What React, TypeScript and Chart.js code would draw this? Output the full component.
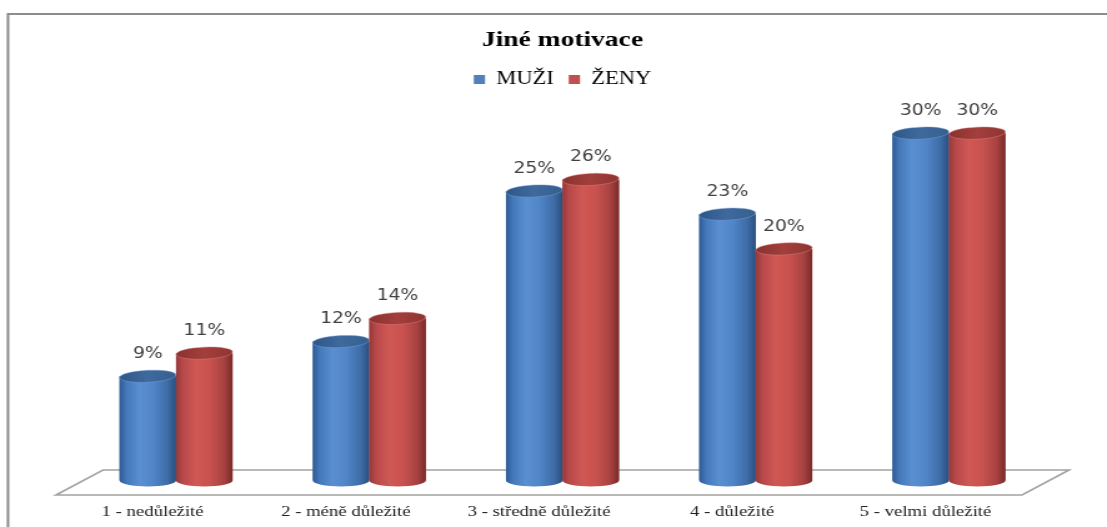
import React, { useEffect, useRef } from 'react';
import { Chart, registerables } from 'chart.js';

Chart.register(...registerables);

// Chart content
const chartTitle = 'Jiné motivace';
const categories = [
  '1 - nedůležité',
  '2 - méně důležité',
  '3 - středně důležité',
  '4 - důležité',
  '5 - velmi důležité',
];
const seriesNames = ['MUŽI', 'ŽENY'];
const muziValues = [9, 12, 25, 23, 30];
const zenyValues = [11, 14, 26, 20, 30];
const seriesColors = ['#4f81bd', '#c0504d'];

// The drawing is laid out on a narrower canvas and widened with CSS.
const OUT_W = 1107;
const OUT_H = 527;
const CANVAS_W = 886;
const STRETCH = OUT_W / CANVAS_W;
const FLOOR_SHIFT = 18.8; // horizontal half-depth of the floor
const CAP_RY = 6; // vertical radius of the cylinder ends
const CAP_TILT = -0.06;

type Palette = { body: [number, string][]; cap: [number, string][]; rim: string };
const palettes: Palette[] = [
  {
    body: [
      [0, '#2f5a92'],
      [0.12, '#4378ba'],
      [0.35, '#5a8fd1'],
      [0.6, '#5085c8'],
      [0.85, '#3e6ca6'],
      [1, '#2a4f80'],
    ],
    cap: [
      [0, '#2e5789'],
      [0.5, '#40699d'],
      [1, '#34608f'],
    ],
    rim: 'rgba(120,160,210,0.6)',
  },
  {
    body: [
      [0, '#95393a'],
      [0.12, '#b8494a'],
      [0.35, '#d05855'],
      [0.6, '#c8524f'],
      [0.85, '#a64240'],
      [1, '#792a29'],
    ],
    cap: [
      [0, '#8a3230'],
      [0.5, '#a33f3c'],
      [1, '#8e3533'],
    ],
    rim: 'rgba(220,130,128,0.6)',
  },
];

const framePlugin = {
  id: 'frame',
  beforeDraw(chart: any) {
    const ctx = chart.ctx;
    ctx.save();
    ctx.fillStyle = '#ffffff';
    ctx.fillRect(0, 0, chart.width, chart.height);
    ctx.strokeStyle = '#8c8c8c';
    ctx.lineWidth = 2;
    ctx.beginPath();
    ctx.moveTo(6.4, chart.height + 10);
    ctx.lineTo(6.4, 14);
    ctx.lineTo(chart.width + 10, 14);
    ctx.stroke();
    ctx.restore();
  },
};

const floorPlugin = {
  id: 'floor',
  beforeDatasetsDraw(chart: any) {
    const ctx = chart.ctx;
    const { left, right } = chart.chartArea;
    const y0 = chart.scales.y.getPixelForValue(0);
    ctx.save();
    ctx.strokeStyle = '#a3a3a3';
    ctx.lineWidth = 1.6;
    ctx.beginPath();
    ctx.moveTo(left + FLOOR_SHIFT, y0 - 10.5);
    ctx.lineTo(right + FLOOR_SHIFT, y0 - 10.5);
    ctx.lineTo(right - FLOOR_SHIFT, y0 + 14.5);
    ctx.lineTo(left - FLOOR_SHIFT, y0 + 14.5);
    ctx.closePath();
    ctx.stroke();
    ctx.restore();
  },
};

const cylinderPlugin = {
  id: 'cylinders',
  afterDatasetsDraw(chart: any) {
    const ctx = chart.ctx;
    ctx.save();
    chart.data.datasets.forEach((_ds: any, di: number) => {
      const meta = chart.getDatasetMeta(di);
      const pal = palettes[di];
      meta.data.forEach((el: any) => {
        const { x, y, base, width } = el.getProps(['x', 'y', 'base', 'width'], true);
        const rx = width / 2;
        // body with rounded bottom
        const g = ctx.createLinearGradient(x - rx, 0, x + rx, 0);
        pal.body.forEach(([o, c]) => g.addColorStop(o, c));
        ctx.fillStyle = g;
        ctx.beginPath();
        ctx.moveTo(x - rx, y);
        ctx.lineTo(x - rx, base);
        ctx.ellipse(x, base, rx, CAP_RY, 0, Math.PI, 0, true);
        ctx.lineTo(x + rx, y);
        ctx.closePath();
        ctx.fill();
        // top cap
        const gc = ctx.createLinearGradient(x - rx, 0, x + rx, 0);
        pal.cap.forEach(([o, c]) => gc.addColorStop(o, c));
        ctx.fillStyle = gc;
        ctx.beginPath();
        ctx.ellipse(x, y, rx, CAP_RY, CAP_TILT, 0, Math.PI * 2);
        ctx.fill();
        ctx.strokeStyle = pal.rim;
        ctx.lineWidth = 0.8;
        ctx.stroke();
      });
    });
    ctx.restore();
  },
};

const valueLabelPlugin = {
  id: 'valueLabels',
  afterDatasetsDraw(chart: any) {
    const ctx = chart.ctx;
    ctx.save();
    ctx.font = '15px "DejaVu Sans"';
    ctx.fillStyle = '#404040';
    ctx.textAlign = 'center';
    ctx.textBaseline = 'middle';
    chart.data.datasets.forEach((ds: any, di: number) => {
      const meta = chart.getDatasetMeta(di);
      meta.data.forEach((el: any, i: number) => {
        const { x, y } = el.getProps(['x', 'y'], true);
        ctx.fillText(`${ds.data[i]}%`, x, y - 22);
      });
    });
    ctx.restore();
  },
};

export default function App() {
  const canvasRef = useRef<HTMLCanvasElement | null>(null);

  useEffect(() => {
    if (!canvasRef.current) return;
    const chart = new Chart(canvasRef.current, {
      type: 'bar',
      data: {
        labels: categories,
        datasets: [
          {
            label: seriesNames[0],
            data: muziValues,
            backgroundColor: seriesColors[0],
            borderWidth: 0,
            categoryPercentage: 0.585,
            barPercentage: 1,
          },
          {
            label: seriesNames[1],
            data: zenyValues,
            backgroundColor: seriesColors[1],
            borderWidth: 0,
            categoryPercentage: 0.585,
            barPercentage: 1,
          },
        ],
      },
      options: {
        animation: false,
        responsive: true,
        maintainAspectRatio: false,
        devicePixelRatio: 1,
        layout: { padding: { left: 63.6, right: 49.2, top: 0, bottom: -17.5 } },
        plugins: {
          title: {
            display: true,
            text: chartTitle,
            color: '#000000',
            font: { family: '"Liberation Serif"', size: 22, weight: 'bold' },
            padding: { top: 27, bottom: 5 },
          },
          legend: {
            display: true,
            labels: {
              color: '#000000',
              font: { family: '"Liberation Serif"', size: 18 },
              boxWidth: 9,
              boxHeight: 9,
              padding: 12,
            },
          },
          tooltip: { enabled: false },
        },
        scales: {
          x: {
            grid: { display: false, drawTicks: false },
            border: { display: false },
            ticks: {
              color: '#202020',
              font: { family: '"Liberation Serif"', size: 15 },
              padding: 23,
              labelOffset: -FLOOR_SHIFT,
              maxRotation: 0,
              autoSkip: false,
            },
          },
          y: {
            display: false,
            min: 0,
            max: 33.0,
          },
        },
      },
      plugins: [framePlugin, floorPlugin, cylinderPlugin, valueLabelPlugin],
    });
    return () => chart.destroy();
  }, []);

  return (
    <div
      style={{
        position: 'fixed',
        left: 0,
        top: 0,
        width: OUT_W,
        height: OUT_H,
        overflow: 'hidden',
        background: '#ffffff',
      }}
    >
      <div
        style={{
          width: CANVAS_W,
          height: OUT_H,
          transform: `scaleX(${STRETCH})`,
          transformOrigin: '0 0',
          position: 'relative',
        }}
      >
        <canvas ref={canvasRef} />
      </div>
    </div>
  );
}
